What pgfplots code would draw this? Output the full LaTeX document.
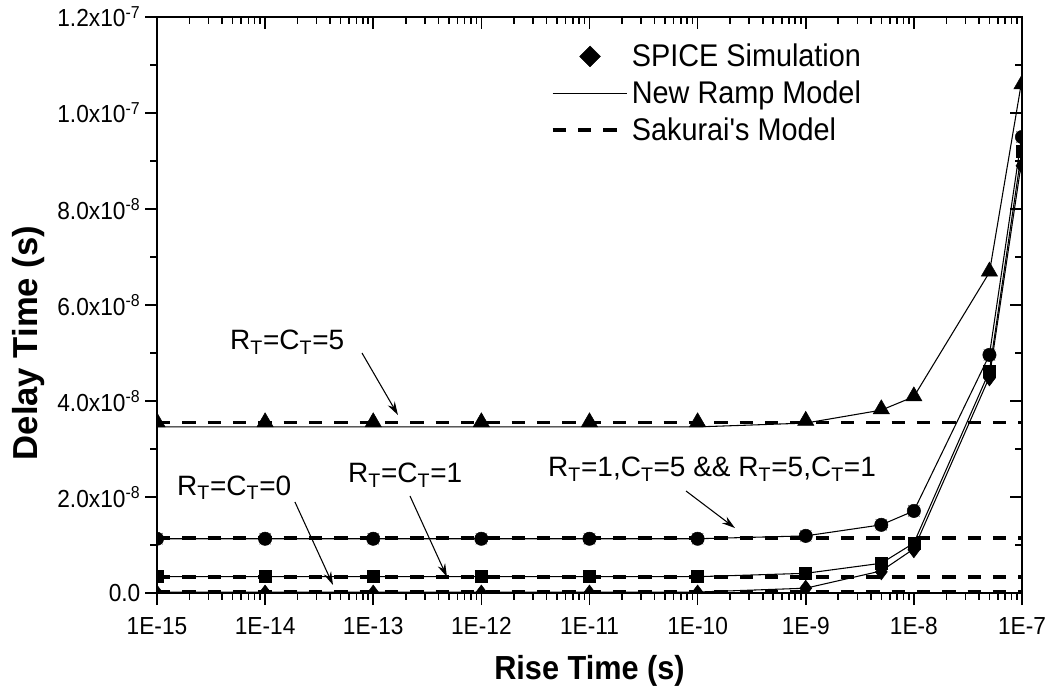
\documentclass[border=0pt]{standalone}
\usepackage{fontspec}
\setmainfont{Liberation Sans}
\newfontfamily\nf{Liberation Sans}[FakeStretch=0.92]
\usepackage{pgfplots}
\pgfplotsset{compat=1.18}
\usetikzlibrary{arrows.meta}
\pgfplotsset{
  linelegend/.style={legend image code/.code={\draw[##1] (0pt,0pt) -- (56pt,0pt);}},
  marklegend/.style={legend image code/.code={\draw[mark repeat=2,mark phase=2,##1] plot coordinates {(0pt,0pt) (28pt,0pt) (56pt,0pt)};}},
  sakurai/.style={forget plot, black, line width=2.8pt, dash pattern=on 10pt off 9pt},
}
\def\minorxt{2e-15,3e-15,4e-15,5e-15,6e-15,7e-15,8e-15,9e-15,
                 2e-14,3e-14,4e-14,5e-14,6e-14,7e-14,8e-14,9e-14,
                 2e-13,3e-13,4e-13,5e-13,6e-13,7e-13,8e-13,9e-13,
                 2e-12,3e-12,4e-12,5e-12,6e-12,7e-12,8e-12,9e-12,
                 2e-11,3e-11,4e-11,5e-11,6e-11,7e-11,8e-11,9e-11,
                 2e-10,3e-10,4e-10,5e-10,6e-10,7e-10,8e-10,9e-10,
                 2e-9,3e-9,4e-9,5e-9,6e-9,7e-9,8e-9,9e-9,
                 2e-8,3e-8,4e-8,5e-8,6e-8,7e-8,8e-8,9e-8}
\begin{document}
\begin{tikzpicture}
\useasboundingbox (-117.75pt,-72pt) rectangle (672.75pt,444.75pt);
\begin{axis}[
    at={(0pt,0pt)}, anchor=south west,
    scale only axis, width=648.75pt, height=432pt,
    xmode=log, xmin=1e-15, xmax=1e-7, ymin=0, ymax=1.2e-7,
    xtick={1e-15,1e-14,1e-13,1e-12,1e-11,1e-10,1e-9,1e-8,1e-7},
    minor xtick/.expand once={\minorxt},
    ytick={0,2e-8,4e-8,6e-8,8e-8,1e-7,1.2e-7},
    minor y tick num=1,
    scaled y ticks=false,
    major tick length=9pt, minor tick length=5pt,
    axis line style={line width=1.5pt},
    every tick/.style={black, line width=1.2pt},
    tick label style={font=\nf\fontsize{18.5}{21}\selectfont},
    xticklabel style={yshift=-6pt},
    tick align=outside, xtick pos=left, ytick pos=left,
    xticklabels={1E-15,1E-14,1E-13,1E-12,1E-11,1E-10,1E-9,1E-8,1E-7},
    yticklabels={0.0,2.0x10\textsuperscript{-8},4.0x10\textsuperscript{-8},6.0x10\textsuperscript{-8},8.0x10\textsuperscript{-8},1.0x10\textsuperscript{-7},1.2x10\textsuperscript{-7}},
    xlabel={\nf\bfseries\fontsize{25}{30}\selectfont Rise Time (s)},
    xlabel style={at={(axis description cs:0.5,-0.151)}, anchor=base},
    ylabel={\bfseries\fontsize{26}{30}\selectfont Delay Time (s)},
    ylabel style={at={(axis description cs:-0.149,0.434)}, anchor=center},
    clip marker paths=true,
    legend style={at={(rel axis cs:0.455,0.958)}, anchor=north west, draw=none, fill=none,
        inner sep=0pt, font=\nf\fontsize{23.5}{27}\selectfont, row sep=5pt},
    legend cell align=left,
]
% legend images
\addlegendimage{only marks, mark=square*, mark size=5.5pt, mark options={rotate=45, fill=black}, marklegend}
\addlegendentry{SPICE Simulation}
\addlegendimage{black, line width=0.8pt, linelegend}
\addlegendentry{New Ramp Model}
\addlegendimage{black, line width=2.8pt, dash pattern=on 10pt off 9pt, linelegend}
\addlegendentry{Sakurai's Model}

% Sakurai's model (dashed)
\addplot[sakurai] coordinates {(1e-15,35.5e-9) (1e-7,35.5e-9)};
\addplot[sakurai] coordinates {(1e-15,11.5e-9) (1e-7,11.5e-9)};
\addplot[sakurai] coordinates {(1e-15,3.3e-9) (1e-7,3.3e-9)};
\addplot[sakurai] coordinates {(1e-15,0.3e-9) (1e-7,0.3e-9)};

% New ramp model (solid)
\addplot[forget plot, black, line width=0.8pt] coordinates {
 (1e-15,34.6e-9) (1e-14,34.6e-9) (1e-13,34.6e-9) (1e-12,34.6e-9) (1e-11,34.6e-9) (1e-10,34.6e-9)
 (1e-9,35.4e-9) (5e-9,38.1e-9) (1e-8,40.9e-9) (5e-8,66.8e-9) (1e-7,107e-9)};
\addplot[forget plot, black, line width=0.8pt] coordinates {
 (1e-15,11.3e-9) (1e-14,11.3e-9) (1e-13,11.3e-9) (1e-12,11.3e-9) (1e-11,11.3e-9) (1e-10,11.3e-9)
 (1e-9,11.9e-9) (5e-9,14.2e-9) (1e-8,17.1e-9) (5e-8,49.6e-9) (1e-7,95.5e-9)};
\addplot[forget plot, black, line width=0.8pt] coordinates {
 (1e-15,3.4e-9) (1e-14,3.4e-9) (1e-13,3.4e-9) (1e-12,3.4e-9) (1e-11,3.4e-9) (1e-10,3.4e-9)
 (1e-9,4.1e-9) (5e-9,6.2e-9) (1e-8,10.4e-9) (5e-8,46.2e-9) (1e-7,92.5e-9)};
\addplot[forget plot, black, line width=0.8pt] coordinates {
 (1e-15,0.2e-9) (1e-14,0.2e-9) (1e-13,0.2e-9) (1e-12,0.2e-9) (1e-11,0.2e-9) (1e-10,0.2e-9)
 (1e-9,1.0e-9) (5e-9,4.6e-9) (1e-8,9.2e-9) (5e-8,45.0e-9) (1e-7,90.5e-9)};

% SPICE simulation (markers)
\addplot[forget plot, only marks, mark=triangle*, mark size=7pt, black] coordinates {
 (1e-15,35.6e-9) (1e-14,35.6e-9) (1e-13,35.6e-9) (1e-12,35.6e-9) (1e-11,35.6e-9) (1e-10,35.6e-9)
 (1e-9,35.9e-9) (5e-9,38.3e-9) (1e-8,41.0e-9) (5e-8,67.0e-9) (1e-7,106e-9)};
\addplot[forget plot, only marks, mark=x, mark size=6pt, gray, line width=0.6pt] coordinates {
 (1e-15,11.3e-9) (1e-14,11.3e-9) (1e-13,11.3e-9) (1e-12,11.3e-9) (1e-11,11.3e-9) (1e-10,11.3e-9)
 (1e-9,11.9e-9) (5e-9,14.2e-9) (1e-8,17.1e-9) (5e-8,49.6e-9) (1e-7,95e-9)};
\addplot[forget plot, only marks, mark=*, mark size=5pt, black] coordinates {
 (1e-15,11.3e-9) (1e-14,11.3e-9) (1e-13,11.3e-9) (1e-12,11.3e-9) (1e-11,11.3e-9) (1e-10,11.3e-9)
 (1e-9,11.9e-9) (5e-9,14.2e-9) (1e-8,17.1e-9) (5e-8,49.6e-9) (1e-7,95e-9)};
\addplot[forget plot, only marks, mark=square*, mark size=4.5pt, black] coordinates {
 (1e-15,3.4e-9) (1e-14,3.4e-9) (1e-13,3.4e-9) (1e-12,3.4e-9) (1e-11,3.4e-9) (1e-10,3.4e-9)
 (1e-9,4.1e-9) (5e-9,6.2e-9) (1e-8,10.4e-9) (5e-8,46.2e-9) (1e-7,92e-9)};
\addplot[forget plot, only marks, mark=diamond*, mark size=6pt, black] coordinates {
 (1e-15,0) (1e-14,0) (1e-13,0) (1e-12,0) (1e-11,0) (1e-10,0)
 (1e-9,1.0e-9) (5e-9,4.4e-9) (1e-8,9.0e-9) (5e-8,44.8e-9) (1e-7,89e-9)};

% annotations
\node[anchor=base west, inner sep=0pt, font=\fontsize{21}{24}\selectfont] at (rel axis cs:0.0844,0.4219) {R\textsubscript{T}=C\textsubscript{T}=5};
\node[anchor=base west, inner sep=0pt, font=\fontsize{21}{24}\selectfont] at (rel axis cs:0.0231,0.1701) {R\textsubscript{T}=C\textsubscript{T}=0};
\node[anchor=base west, inner sep=0pt, font=\fontsize{21}{24}\selectfont] at (rel axis cs:0.2208,0.1910) {R\textsubscript{T}=C\textsubscript{T}=1};
\node[anchor=base west, inner sep=0pt, font=\fontsize{21}{24}\selectfont] at (rel axis cs:0.4520,0.2014) {R\textsubscript{T}=1,C\textsubscript{T}=5 \&\& R\textsubscript{T}=5,C\textsubscript{T}=1};
\draw[-{Stealth[length=10pt,width=6pt]}, line width=0.8pt] (rel axis cs:0.2370,0.4167) -- (rel axis cs:0.2786,0.3090);
\draw[-{Stealth[length=10pt,width=6pt]}, line width=0.8pt] (rel axis cs:0.1595,0.1580) -- (rel axis cs:0.2035,0.0139);
\draw[-{Stealth[length=10pt,width=6pt]}, line width=0.8pt] (rel axis cs:0.2925,0.1684) -- (rel axis cs:0.3353,0.0278);
\draw[-{Stealth[length=10pt,width=6pt]}, line width=0.8pt] (rel axis cs:0.6116,0.1771) -- (rel axis cs:0.6682,0.1128);
\end{axis}
\begin{axis}[
    at={(0pt,0pt)}, anchor=south west,
    scale only axis, width=648.75pt, height=432pt,
    xmode=log, xmin=1e-15, xmax=1e-7, ymin=0, ymax=1.2e-7,
    xtick={1e-15,1e-14,1e-13,1e-12,1e-11,1e-10,1e-9,1e-8,1e-7},
    minor xtick/.expand once={\minorxt},
    ytick={0,2e-8,4e-8,6e-8,8e-8,1e-7,1.2e-7},
    minor y tick num=1,
    scaled y ticks=false,
    major tick length=9pt, minor tick length=5pt,
    axis line style={line width=1.5pt},
    every tick/.style={black, line width=1.2pt},
    tick align=inside, xtick pos=right, ytick pos=right,
    xticklabels={}, yticklabels={},
]
\addplot[draw=none, forget plot] coordinates {(1e-15,0) (1e-7,1e-7)};
\end{axis}
\end{tikzpicture}
\end{document}
